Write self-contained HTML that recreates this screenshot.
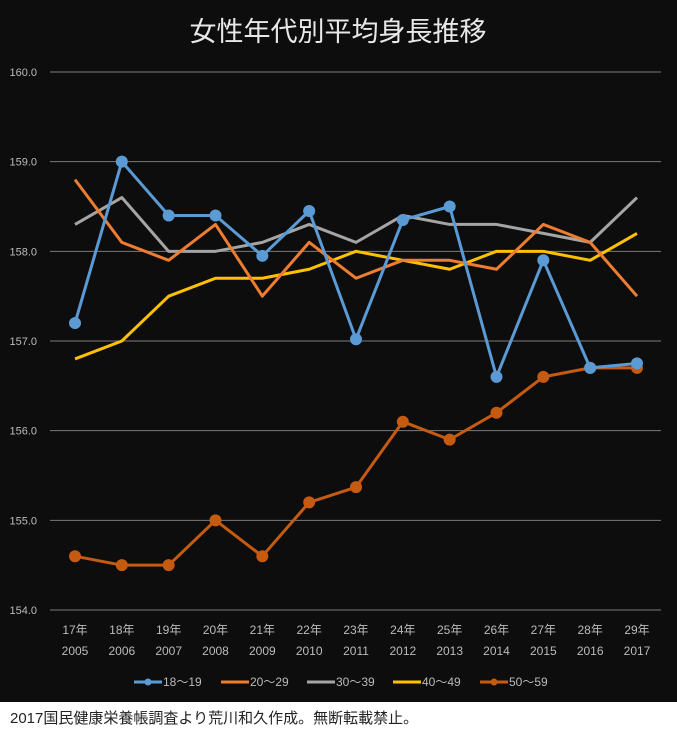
<!DOCTYPE html>
<html><head><meta charset="utf-8"><style>
body{margin:0;width:677px;height:739px;background:#fff;overflow:hidden}
svg{display:block}
text{font-family:"Liberation Sans","Noto Sans CJK JP",sans-serif}
</style></head><body>
<svg id="c" width="677" height="739">
<rect x="0" y="0" width="677" height="702" fill="#0d0d0d"/>
<text x="338" y="41" fill="#e8e8e8" font-size="27" text-anchor="middle">女性年代別平均身長推移</text>
<g id="grid"></g><g id="series"></g><g id="legend"></g>
<text x="10" y="723" fill="#222" font-size="15">2017国民健康栄養帳調査より荒川和久作成。無断転載禁止。</text>
</svg>
<script>
const categoriesJp=["17年","18年","19年","20年","21年","22年","23年","24年","25年","26年","27年","28年","29年"];
const categoriesYear=["2005","2006","2007","2008","2009","2010","2011","2012","2013","2014","2015","2016","2017"];
const yTicks=[154,155,156,157,158,159,160];
const seriesNames=["18～19","20～29","30～39","40～49","50～59"];
const s18=[157.2,159.0,158.4,158.4,157.95,158.45,157.02,158.35,158.5,156.6,157.9,156.7,156.75];
const s20=[158.8,158.1,157.9,158.3,157.5,158.1,157.7,157.9,157.9,157.8,158.3,158.1,157.5];
const s30=[158.3,158.6,158.0,158.0,158.1,158.3,158.1,158.4,158.3,158.3,158.2,158.1,158.6];
const s40=[156.8,157.0,157.5,157.7,157.7,157.8,158.0,157.9,157.8,158.0,158.0,157.9,158.2];
const s50=[154.6,154.5,154.5,155.0,154.6,155.2,155.37,156.1,155.9,156.2,156.6,156.7,156.7];
const NS="http://www.w3.org/2000/svg";
const x=i=>75+i*(637-75)/12;
const y=v=>610-(v-154)*(610-72)/6;
function mk(t,a,p){const e=document.createElementNS(NS,t);for(const k in a)e.setAttribute(k,a[k]);p.appendChild(e);return e;}
const grid=document.getElementById('grid');
yTicks.forEach(v=>{
 const l=mk('line',{x1:50,x2:661,y1:y(v),y2:y(v),stroke:'#7a7a7a','stroke-width':1},grid);
 
 
 const t=mk('text',{x:37,y:y(v)+4,fill:'#bbb','font-size':11,'text-anchor':'end'},grid);
 t.textContent=v.toFixed(1);
 
 
});
categoriesJp.forEach((c,i)=>{
 const t=mk('text',{x:x(i),y:634,fill:'#bbb','font-size':12,'text-anchor':'middle'},grid);
 t.textContent=c;
 
 
 const t2=mk('text',{x:x(i),y:655,fill:'#bbb','font-size':12,'text-anchor':'middle'},grid);
 t2.textContent=categoriesYear[i];
 
 
});
const data=[s18,s20,s30,s40,s50];
const colors=['#5b9bd5','#ed7d31','#a5a5a5','#ffc000','#c55a11'];
const markers=[true,false,false,false,true];
const sg=document.getElementById('series');
[2,3,1,4,0].forEach(k=>{
 const g=mk('g',{},sg);
 
 
 const p=mk('polyline',{points:data[k].map((v,i)=>x(i)+','+y(v)).join(' '),fill:'none',stroke:colors[k],'stroke-width':3,'stroke-linejoin':'round'},g);
 
 
 if(markers[k])data[k].forEach((v,i)=>{
  const c=mk('circle',{cx:x(i),cy:y(v),r:6,fill:colors[k]},g);
  
  
 });
});
const lg=document.getElementById('legend');
const lx=[134,221,307,393,480];
seriesNames.forEach((n,k)=>{
 const g=mk('g',{},lg);
 
 
 mk('line',{x1:lx[k],x2:lx[k]+28,y1:682,y2:682,stroke:colors[k],'stroke-width':3},g);
 if(markers[k])mk('circle',{cx:lx[k]+14,cy:682,r:3.5,fill:colors[k]},g);
 const t=mk('text',{x:lx[k]+29,y:686,fill:'#bbb','font-size':12},g);
 t.textContent=n;
});
</script>
</body></html>
